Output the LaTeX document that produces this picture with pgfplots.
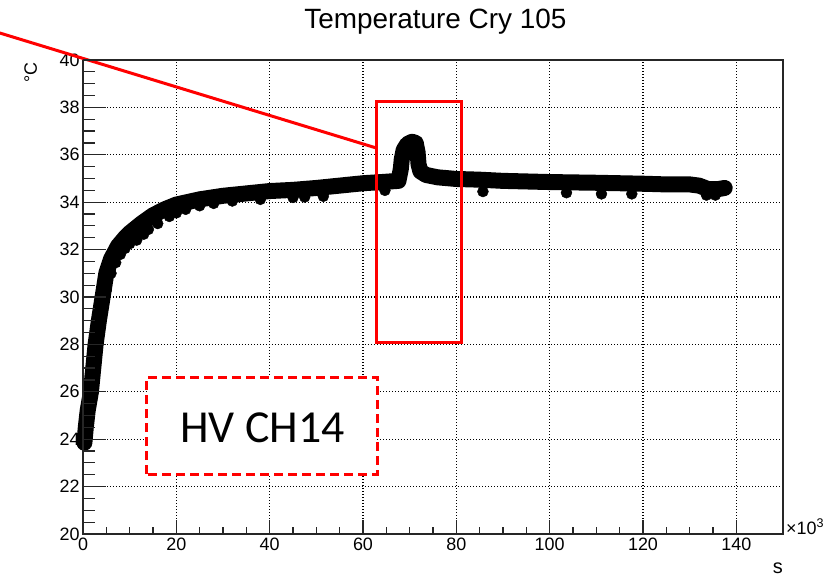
\documentclass[border=0pt]{standalone}
\usepackage{fontspec}
\setmainfont{Liberation Sans}
\newfontfamily\carlito{Carlito}
\usepackage{pgfplots}
\pgfplotsset{compat=1.18}

\pgfplotstableread{
x y
0.3 23.85
0.6 24.5
1.0 25.2
1.7 26.0
2.2 27.0
2.7 28.0
3.4 29.0
4.2 30.0
5.0 31.0
6.0 31.6
7.5 32.15
9 32.5
10 32.7
12.5 33.1
15 33.45
17.5 33.7
20 33.9
25 34.12
30 34.27
35 34.37
40 34.47
45 34.52
50 34.6
55 34.7
60 34.8
64 34.85
67.6 34.9
68.1 35.4
68.3 35.8
68.7 36.2
69.5 36.45
70.5 36.55
71.3 36.5
71.7 36.1
71.9 35.6
72.3 35.3
73.5 35.15
76 35.05
80 34.98
85 34.95
90 34.9
100 34.85
110 34.82
120 34.78
125 34.75
130 34.75
132 34.7
134 34.55
136 34.55
137.5 34.6
}\maintable

\pgfplotstableread{
x y
3.2 28.2
4.0 29.3
5.0 30.3
6.0 31.0
7.0 31.45
8.0 31.8
9.0 32.05
10.0 32.25
11.5 32.4
13.0 32.65
14.0 32.85
16.0 33.1
18.5 33.4
20.0 33.55
22.0 33.7
25.0 33.85
28.0 33.95
32 34.05
38 34.12
45 34.2
47.5 34.22
51.5 34.25
64.7 34.5
85.7 34.45
103.6 34.4
111.1 34.35
117.6 34.35
133.6 34.3
135.5 34.3
}\diptable

\pgfplotsset{
 common/.style={
  scale only axis, width=700bp, height=474bp,
  xmin=0,xmax=150,ymin=20,ymax=40,
  tick align=inside, xtick pos=left, ytick pos=left,
  axis line style={line width=1.2bp, black!85},
  tick style={line width=1.2bp, black!85},
  clip=false,
 }
}

\begin{document}
\begin{tikzpicture}
\useasboundingbox (-83bp,-42bp) rectangle (750bp,534bp);
\begin{axis}[
 common,
 xtick={0,20,...,140}, ytick={20,22,...,40},
 minor x tick num=3, minor y tick num=3,
 major tick length=14bp, minor tick length=7bp,
 grid=major, major grid style={black, line width=1.2bp, dash pattern=on 1.2bp off 1.8bp},
 ticklabel style={font=\fontsize{18}{20}\selectfont},
 /pgf/number format/assume math mode=true,
]
\addplot[black, line width=16bp, line cap=round, line join=round] table[x=x,y=y] {\maintable};
\addplot[only marks, mark=*, mark size=5.5bp, black] table[x=x,y=y] {\diptable};

\draw[red, line width=3bp] (axis cs:-25,41.57) -- (axis cs:62.8,36.29);
\draw[red, line width=3bp] (axis cs:62.8,28.1) rectangle (axis cs:81.2,38.23);
\draw[red, line width=3bp, fill=white, dash pattern=on 9bp off 5bp] (axis cs:13.71,22.53) rectangle (axis cs:63.0,26.62);
\node[anchor=base, inner sep=0pt, font=\carlito\fontsize{46}{50}\selectfont] at (axis cs:38.46,23.88) {HV CH14};

\node[anchor=base, inner sep=0pt, font=\fontsize{28}{32}\selectfont] at ([yshift=31.7bp]axis cs:75.5,40) {Temperature Cry 105};
\node[anchor=base east, rotate=90, inner sep=0pt, font=\fontsize{18}{20}\selectfont] at ([xshift=-46bp,yshift=-2bp]rel axis cs:0,1) {°C};
\node[anchor=base east, inner sep=0pt, font=\fontsize{20}{22}\selectfont] at ([yshift=-39bp]rel axis cs:1,0) {s};
\node[anchor=base west, inner sep=0pt, font=\fontsize{18}{20}\selectfont] at ([xshift=3bp]rel axis cs:1,0) {×10\textsuperscript{3}};
\end{axis}
\begin{axis}[
 common,
 hide x axis,
 ytick={20,22,...,40}, minor y tick num=3,
 major tick length=23bp, minor tick length=12bp,
 yticklabels={},
]
\end{axis}
\end{tikzpicture}
\end{document}
